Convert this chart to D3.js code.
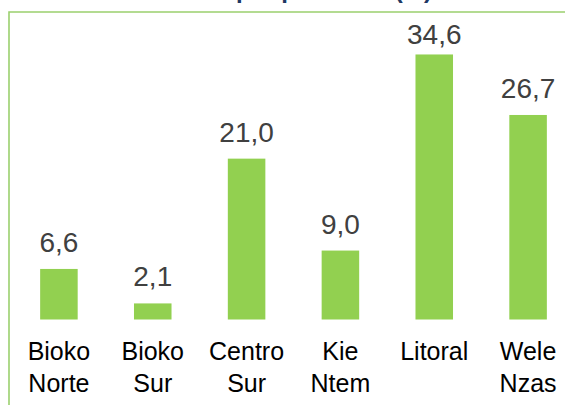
<!DOCTYPE html>
<html>
<head>
<meta charset="utf-8">
<script src="https://cdn.jsdelivr.net/npm/d3@7.9.0/dist/d3.min.js"></script>
<style>
  html, body { margin: 0; padding: 0; background: #fff; }
  svg { display: block; font-family: "Liberation Sans", Arial, sans-serif; }
</style>
</head>
<body>
<svg id="chart" width="565" height="405"></svg>
<script>
const provincias = ['Bioko Norte', 'Bioko Sur', 'Centro Sur', 'Kie Ntem', 'Litoral', 'Wele Nzas'];
const valores = [6.6, 2.1, 21.0, 9.0, 34.6, 26.7];
const titulo = 'Población por provincia (%)';

const svg = d3.select('#chart');

// title sits mostly above the frame, only its descenders show
svg.append('text')
  .attr('x', 432)
  .attr('y', -2)
  .attr('text-anchor', 'end')
  .attr('font-size', 24)
  .attr('font-weight', 'bold')
  .attr('fill', '#1F3864')
  .text(titulo);

// frame
svg.append('path')
  .attr('d', 'M9,405V12H565')
  .attr('fill', 'none')
  .attr('stroke', '#9BD06E')
  .attr('stroke-width', 1.6);

const x = d3.scaleBand()
  .domain(provincias)
  .range([12, 575])
  .paddingInner(0.6)
  .paddingOuter(0.3);

const y = d3.scaleLinear()
  .domain([0, 40])
  .range([319.5, 13.1]);

const data = provincias.map((p, i) => ({ p, v: valores[i] }));

svg.selectAll('rect.bar')
  .data(data)
  .join('rect')
  .attr('class', 'bar')
  .attr('x', d => x(d.p))
  .attr('width', x.bandwidth())
  .attr('y', d => y(d.v))
  .attr('height', d => y(0) - y(d.v))
  .attr('fill', '#92D050');

svg.selectAll('text.val')
  .data(data)
  .join('text')
  .attr('class', 'val')
  .attr('x', d => x(d.p) + x.bandwidth() / 2)
  .attr('y', d => Math.max(y(d.v) - 17, 43.5))
  .attr('text-anchor', 'middle')
  .attr('font-size', 28)
  .attr('fill', '#404040')
  .text(d => d3.format('.1f')(d.v).replace('.', ','));

const labels = svg.selectAll('text.cat')
  .data(data)
  .join('text')
  .attr('class', 'cat')
  .attr('text-anchor', 'middle')
  .attr('font-size', 25)
  .attr('fill', '#000');

labels.selectAll('tspan')
  .data(d => d.p.split(' ').map(w => ({ w, cx: x(d.p) + x.bandwidth() / 2 })))
  .join('tspan')
  .attr('x', d => d.cx)
  .attr('y', (d, i) => 359.5 + i * 32)
  .text(d => d.w);
</script>
</body>
</html>
